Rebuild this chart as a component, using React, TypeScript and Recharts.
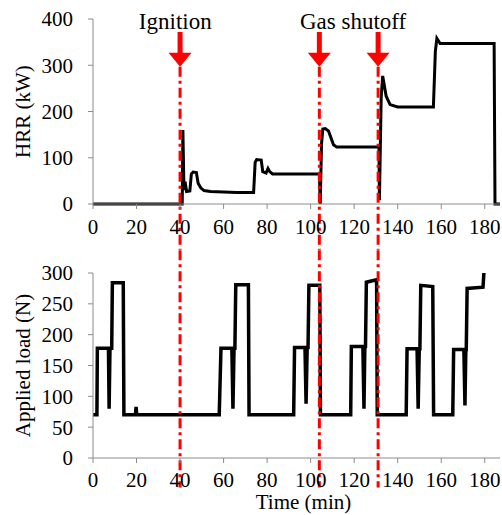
import React from 'react';
import { ComposedChart, Line, XAxis, YAxis, ReferenceLine, ReferenceDot, Label } from 'recharts';

const xTicks = [0, 20, 40, 60, 80, 100, 120, 140, 160, 180];
const hrrTicks = [0, 100, 200, 300, 400];
const loadTicks = [0, 50, 100, 150, 200, 250, 300];

const eventTimes = [40, 104, 131];
const annotationLabels = ['Ignition', 'Gas shutoff'];
const annotationTimes = [37.8, 119.5];

const hrrTime = [
  0, 41.0, 41.3, 41.8, 42.3, 43.0, 44.5, 45.2, 46.0, 47.5, 48.3, 49.5, 51, 54, 60, 66, 73.8,
  74.5, 75.2, 77.3, 78.0, 79.5, 80.4, 81.2, 82.5, 95, 104.0, 104.4, 105.0, 105.6, 106.7, 108.2,
  110.5, 112, 120, 131.4, 131.6, 132.4, 133.1, 134.7, 136.5, 140, 156.4, 157.3, 158.0, 159.5,
  170, 184.3, 184.7, 187,
];
const hrrValue = [
  0, 0, 160, 30, 48, 27, 28, 65, 69, 68, 45, 35, 29, 27, 26, 25, 25,
  90, 96, 95, 70, 67, 77, 70, 65, 65, 65, 0, 130, 162, 163, 158,
  128, 123, 123, 123, 8, 230, 277, 233, 215, 210, 210, 330, 358, 347,
  347, 347, 0, 0,
];

const loadTime = [
  0, 1.8, 2.0, 7.1, 7.4, 7.8, 8.6, 8.9, 13.9, 14.2, 19.5, 19.8, 20.1, 58.0, 58.8, 63.8, 64.3,
  64.8, 65.2, 65.6, 71.4, 71.7, 92.2, 92.6, 97.4, 97.9, 98.4, 98.8, 99.2, 104.2, 104.5, 118.4,
  118.7, 124.0, 124.5, 124.9, 125.2, 125.6, 130.3, 130.6, 143.9, 144.3, 148.9, 149.4, 149.9,
  150.2, 150.6, 156.1, 156.5, 165.3, 165.7, 170.4, 170.9, 171.3, 171.5, 171.9, 179.2, 179.6,
];
const loadValue = [
  70, 70, 178, 178, 80, 178, 178, 284, 284, 70, 70, 83, 70, 70, 178, 178, 80,
  178, 178, 281, 281, 70, 70, 179, 179, 88, 179, 179, 280, 280, 70, 70,
  181, 181, 80, 181, 181, 285, 289, 70, 70, 177, 177, 80, 177,
  177, 280, 278, 70, 70, 176, 176, 85, 176, 176, 275, 277, 300,
];

const hrrData = hrrTime.map((t, i) => ({ t, v: hrrValue[i] }));
const loadData = loadTime.map((t, i) => ({ t, v: loadValue[i] }));

const serif = '"Liberation Serif", "Times New Roman", serif';
const axisGray = '#8c8c8c';
const red = '#ff0000';
const tickStyle = { fill: '#000', fontSize: 21, fontFamily: serif };

const ArrowHead = (props: any) => {
  const { cx, cy } = props;
  return <polygon points={`${cx - 11.5},${cy} ${cx + 11.5},${cy} ${cx},${cy + 14}`} fill={red} />;
};

const makeTextShape = (txt: string) => (props: any) => (
  <text x={props.cx} y={props.cy} textAnchor="middle" fontSize={23} fontFamily={serif} fill="#000">
    {txt}
  </text>
);

export default function App() {
  return (
    <div style={{ position: 'absolute', left: 0, top: 0, width: 502, height: 515, background: '#fff', fontFamily: serif }}>
      <style>{`svg text, .recharts-text { font-family: "Liberation Serif", "Times New Roman", serif !important; }`}</style>
      <div style={{ position: 'absolute', left: 0, top: 0 }}>
        <ComposedChart width={502} height={250} data={hrrData} margin={{ top: 19, right: 2, bottom: 0, left: 0 }}>
          <XAxis
            dataKey="t"
            type="number"
            domain={[0, 187]}
            ticks={xTicks}
            interval={0}
            allowDataOverflow
            height={46}
            stroke={axisGray}
            tickSize={5}
            tickMargin={10}
            tick={tickStyle}
          />
          <YAxis
            type="number"
            domain={[0, 400]}
            ticks={hrrTicks}
            interval={0}
            width={93}
            stroke={axisGray}
            tickSize={5}
            tickMargin={15}
            tick={tickStyle}
          >
            <Label value="HRR (kW)" angle={-90} position="center" dx={-24} fontSize={21} fontFamily={serif} fill="#000" />
          </YAxis>
          <Line dataKey="v" type="linear" stroke="#000" strokeWidth={3} dot={false} isAnimationActive={false} />
          {eventTimes.map((t) => (
            <ReferenceLine
              key={'d' + t}
              segment={[{ x: t, y: 297 }, { x: t, y: -99 }]}
              stroke={red}
              strokeWidth={3}
              strokeDasharray="10 4 3 4"
              ifOverflow="visible"
            />
          ))}
          {eventTimes.map((t) => (
            <ReferenceLine
              key={'s' + t}
              segment={[{ x: t, y: 372 }, { x: t, y: 326 }]}
              stroke={red}
              strokeWidth={5}
              ifOverflow="visible"
            />
          ))}
          {eventTimes.map((t) => (
            <ReferenceDot key={'h' + t} x={t} y={327} r={0} shape={ArrowHead} ifOverflow="visible" />
          ))}
          {annotationLabels.map((txt, i) => (
            <ReferenceDot key={txt} x={annotationTimes[i]} y={379} r={0} shape={makeTextShape(txt)} ifOverflow="visible" />
          ))}
        </ComposedChart>
      </div>
      <div style={{ position: 'absolute', left: 0, top: 250 }}>
        <ComposedChart width={502} height={265} data={loadData} margin={{ top: 23, right: 2, bottom: 0, left: 0 }}>
          <XAxis
            dataKey="t"
            type="number"
            domain={[0, 187]}
            ticks={xTicks}
            interval={0}
            allowDataOverflow
            height={57}
            stroke={axisGray}
            tickSize={5}
            tickMargin={9}
            tick={tickStyle}
          >
            <Label value="Time (min)" position="insideBottom" offset={6} dx={7} fontSize={21} fontFamily={serif} fill="#000" />
          </XAxis>
          <YAxis
            type="number"
            domain={[0, 300]}
            ticks={loadTicks}
            interval={0}
            width={93}
            stroke={axisGray}
            tickSize={5}
            tickMargin={15}
            tick={tickStyle}
          >
            <Label value="Applied load (N)" angle={-90} position="center" dx={-24} fontSize={21} fontFamily={serif} fill="#000" />
          </YAxis>
          <Line dataKey="v" type="linear" stroke="#000" strokeWidth={3.5} dot={false} isAnimationActive={false} />
          {eventTimes.map((t) => (
            <ReferenceLine
              key={'b' + t}
              segment={[{ x: t, y: 337 }, { x: t, y: -48 }]}
              stroke={red}
              strokeWidth={3}
              strokeDasharray="10 4 3 4"
              ifOverflow="visible"
            />
          ))}
        </ComposedChart>
      </div>
    </div>
  );
}
